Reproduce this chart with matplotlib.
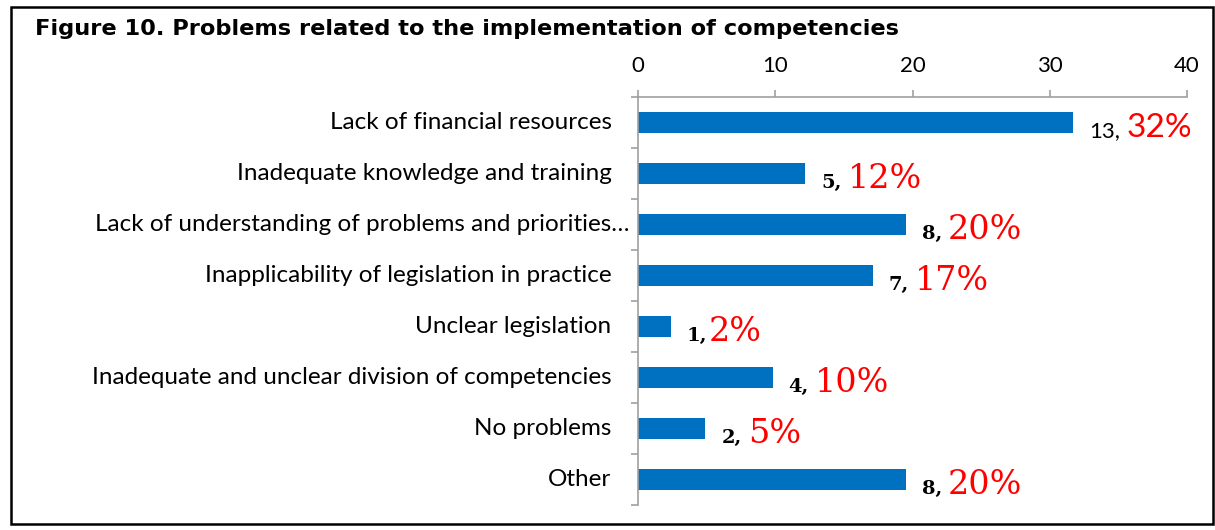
import matplotlib
matplotlib.use("Agg")
import matplotlib.pyplot as plt
from matplotlib.patches import Rectangle

categories = [
    "Lack of financial resources",
    "Inadequate knowledge and training",
    "Lack of understanding of problems and priorities…",
    "Inapplicability of legislation in practice",
    "Unclear legislation",
    "Inadequate and unclear division of competencies",
    "No problems",
    "Other",
]
counts = [13, 5, 8, 7, 1, 4, 2, 8]
shares = [31.7, 12.2, 19.5, 17.1, 2.4, 9.8, 4.9, 19.5]
share_labels = ["32%", "12%", "20%", "17%", "2%", "10%", "5%", "20%"]
xticks = [0, 10, 20, 30, 40]

fig = plt.figure(figsize=(12.15, 5.3), dpi=100)
ax = fig.add_axes([638 / 1215, 1 - 505 / 530, (1187 - 638) / 1215, (505 - 97) / 530])

ypos = list(range(len(categories)))
ax.barh(ypos, shares, height=0.4, color="#0070C0")
ax.set_xlim(0, 40)
ax.set_ylim(len(categories) - 0.5, -0.5)

ax.xaxis.tick_top()
ax.set_xticks(xticks)
ax.set_xticklabels([str(t) for t in xticks], fontsize=16, family="Lato")
ax.tick_params(axis="x", length=5, width=1.2, color="#A0A0A0", pad=10)

# category labels at bar centres, ticks at category boundaries
ax.set_yticks([y + 0.5 for y in ypos[:-1]] + [-0.5, len(categories) - 0.5])
ax.set_yticklabels([])
ax.tick_params(axis="y", length=5, width=1.2, color="#A0A0A0")
for y, lab in zip(ypos, categories):
    dx = -6 if lab.endswith("…") else -19
    ax.annotate(lab, xy=(0, y), xycoords=("axes fraction", "data"),
                xytext=(dx, 0), textcoords="offset points",
                ha="right", va="center", fontsize=17.5, family="Lato")

for s in ["right", "bottom"]:
    ax.spines[s].set_visible(False)
for s in ["left", "top"]:
    ax.spines[s].set_color("#A0A0A0")
    ax.spines[s].set_linewidth(1.2)

for i, (y, v, c, lab) in enumerate(zip(ypos, shares, counts, share_labels)):
    if i == 0:
        fam, bsize, rsize, bw = "Lato", 16, 24, "normal"
    else:
        fam, bsize, rsize, bw = "DejaVu Serif", 14, 24, "bold"
    t1 = ax.annotate(f"{c},", xy=(v, y), xytext=(11.5, -10.5), textcoords="offset points",
                     ha="left", va="baseline", fontsize=bsize, family=fam, fontweight=bw)
    gap = 1 if lab == "2%" else 4.5
    ax.annotate(lab, xy=(1, y), xycoords=(t1, "data"), xytext=(gap, -10.5),
                textcoords="offset points", ha="left", va="baseline",
                fontsize=rsize, family=fam, color="#FF0000")

fig.text(35 / 1215, 1 - 35 / 530, "Figure 10. Problems related to the implementation of competencies",
         fontsize=16.2, fontweight="bold", ha="left", va="baseline")

fig.patches.append(Rectangle((11 / 1215, 1 - 524 / 530), (1213 - 11) / 1215, (524 - 7) / 530,
                             transform=fig.transFigure, fill=False, edgecolor="black", linewidth=1.8))

fig.savefig("out.png", dpi=100)
